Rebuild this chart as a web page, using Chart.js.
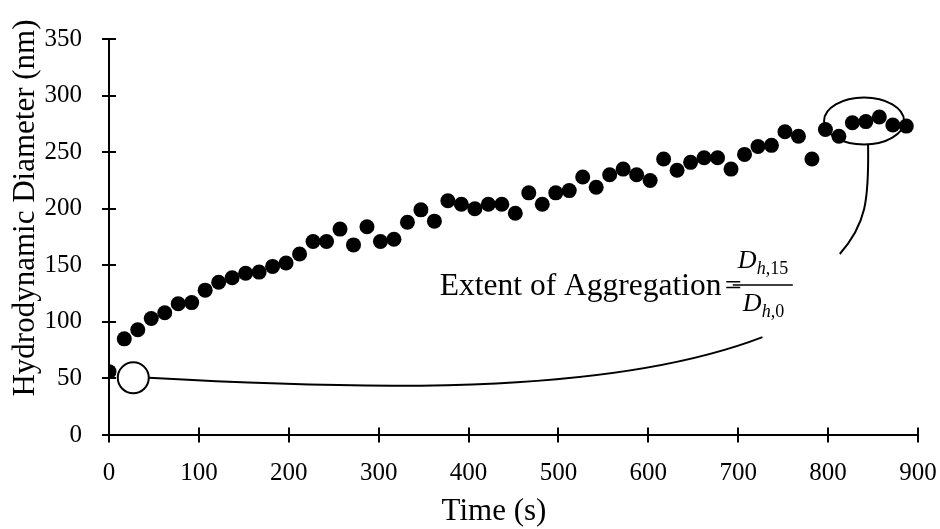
<!DOCTYPE html>
<html>
<head>
<meta charset="utf-8">
<script src="https://cdn.jsdelivr.net/npm/chart.js@4.4.0/dist/chart.umd.min.js"></script>
<style>
  html, body { margin: 0; padding: 0; background: #fff; }
</style>
</head>
<body>
<canvas id="chart" width="940" height="529"></canvas>
<script>
/* Hydrodynamic diameter vs time, scatter + hand-drawn style annotations */

const SERIF = "'Liberation Serif', 'Times New Roman', serif";

// time points (s)
const timeS = [0, 17, 32, 47, 62, 77, 92, 107, 122, 137, 152, 167, 182, 197, 212,
  227, 242, 257, 272, 287, 302, 317, 332, 347, 362, 377, 392, 407, 422, 437, 452,
  467, 482, 497, 512, 527, 542, 557, 572, 587, 602, 617, 632, 647, 662, 677, 692,
  707, 722, 737, 752, 767, 782, 797, 812, 827, 842, 857, 872, 887];

// hydrodynamic diameter (nm)
const diameterNm = [56, 85, 93, 103, 108, 116, 117, 128, 135, 139, 143, 144, 149,
  152, 160, 171, 171, 182, 168, 184, 171, 173, 188, 199, 189, 207, 204, 200, 204,
  204, 196, 214, 204, 214, 216, 228, 219, 230, 235, 230, 225, 244, 234, 241, 245,
  245, 235, 248, 255, 256, 268, 264, 244, 270, 264, 276, 277, 281, 274, 273];

const xTickValues = [0, 100, 200, 300, 400, 500, 600, 700, 800, 900];
const yTickValues = [0, 50, 100, 150, 200, 250, 300, 350];

const xTitle = 'Time (s)';
const yTitle = 'Hydrodynamic Diameter (nm)';
const noteText = 'Extent of Aggregation';

const points = timeS.map((t, i) => ({ x: t, y: diameterNm[i] }));

/* ticks that cross the axis line on both sides */
const crossTicks = {
  id: 'crossTicks',
  afterDraw(chart) {
    const { ctx, chartArea, scales: { x, y } } = chart;
    ctx.save();
    ctx.strokeStyle = '#000';
    ctx.lineWidth = 2;
    ctx.beginPath();
    x.ticks.forEach(t => {
      const px = Math.round(x.getPixelForValue(t.value));
      ctx.moveTo(px, chartArea.bottom - 7.5);
      ctx.lineTo(px, chartArea.bottom + 7.5);
    });
    y.ticks.forEach(t => {
      const py = Math.round(y.getPixelForValue(t.value));
      ctx.moveTo(chartArea.left - 7, py);
      ctx.lineTo(chartArea.left + 7, py);
    });
    ctx.stroke();
    ctx.restore();
  }
};

/* axis titles placed by hand (they are not centred on the plot in the original) */
const axisTitles = {
  id: 'axisTitles',
  afterDraw(chart) {
    const { ctx } = chart;
    ctx.save();
    ctx.fillStyle = '#000';
    ctx.font = `31px ${SERIF}`;
    ctx.textAlign = 'center';
    ctx.textBaseline = 'alphabetic';
    ctx.fillText(xTitle, 494, 520);
    ctx.translate(34, 208);
    ctx.rotate(-Math.PI / 2);
    ctx.fillText(yTitle, 0, 0);
    ctx.restore();
  }
};

/* open circle + curve, ellipse + tail, and the ratio label (anchors in data units) */
const notes = {
  id: 'notes',
  afterDatasetsDraw(chart) {
    const { ctx, scales: { x, y } } = chart;
    const P = (vx, vy) => [x.getPixelForValue(vx), y.getPixelForValue(vy)];
    ctx.save();
    ctx.strokeStyle = '#000';
    ctx.lineWidth = 2;

    // open circle on the starting value
    const [cx, cy] = P(27, 50.5);
    const r = 15.5;
    ctx.beginPath();
    ctx.arc(cx, cy, r, 0, Math.PI * 2);
    ctx.fillStyle = '#fff';
    ctx.fill();
    ctx.stroke();

    // long curve to the label
    const c1 = P(324, 38), c2 = P(568, 38), e1 = P(727, 86.5);
    ctx.beginPath();
    ctx.moveTo(cx + r, cy);
    ctx.bezierCurveTo(c1[0], c1[1], c2[0], c2[1], e1[0], e1[1]);
    ctx.stroke();

    // ellipse round the final values
    const [ex, ey] = P(840, 277.5);
    const rx = 40, ry = 23.5;
    ctx.beginPath();
    ctx.ellipse(ex, ey, rx, ry, 0, 0, Math.PI * 2);
    ctx.stroke();

    // tail from the ellipse
    const t1 = P(845.5, 207), t2 = P(842, 186), t3 = P(813, 160);
    ctx.beginPath();
    ctx.moveTo(ex + 4, ey + ry);
    ctx.bezierCurveTo(t1[0], t1[1], t2[0], t2[1], t3[0], t3[1]);
    ctx.stroke();

    // label text
    const [lx, ly] = P(368, 123.7);
    ctx.fillStyle = '#000';
    ctx.textBaseline = 'alphabetic';
    ctx.textAlign = 'left';
    ctx.font = `31.5px ${SERIF}`;
    ctx.fillText(noteText, lx, ly);
    ctx.font = `30px ${SERIF}`;
    ctx.fillText('=', lx + 285, ly);

    // fraction D_h,15 / D_h,0
    const fx = lx + 293;
    ctx.lineWidth = 1.5;
    ctx.beginPath();
    ctx.moveTo(fx, ly - 10);
    ctx.lineTo(fx + 60, ly - 10);
    ctx.stroke();
    ctx.font = `italic 26px ${SERIF}`;
    ctx.fillText('D', fx + 5, ly - 27);
    ctx.fillText('D', fx + 10, ly + 16);
    ctx.font = `italic 18px ${SERIF}`;
    ctx.fillText('h', fx + 24, ly - 21);
    ctx.fillText('h', fx + 29, ly + 22);
    ctx.font = `18px ${SERIF}`;
    ctx.fillText(',15', fx + 33, ly - 21);
    ctx.fillText(',0', fx + 38, ly + 22);
    ctx.restore();
  }
};

// keep tick-label overhang out of the layout so the plot box is fixed
const noOverhang = s => { s.paddingLeft = 0; s.paddingRight = 0; s.paddingTop = 0; s.paddingBottom = 0; };

new Chart(document.getElementById('chart'), {
  type: 'scatter',
  data: {
    datasets: [{
      data: points,
      pointRadius: 7.5,
      pointHoverRadius: 7.5,
      pointBackgroundColor: '#000',
      pointBorderWidth: 0,
    }]
  },
  options: {
    responsive: false,
    animation: false,
    events: [],
    layout: { padding: { top: 39, right: 22, left: 0, bottom: 0 } },
    plugins: { legend: { display: false }, tooltip: { enabled: false } },
    scales: {
      x: {
        type: 'linear',
        min: 0, max: 900,
        afterBuildTicks: s => { s.ticks = xTickValues.map(v => ({ value: v })); },
        afterFit: s => { s.height = 94; noOverhang(s); },
        grid: { display: false, drawTicks: false },
        border: { display: true, color: '#000', width: 2 },
        ticks: { color: '#000', padding: 23, font: { family: SERIF, size: 25 } },
      },
      y: {
        type: 'linear',
        min: 0, max: 350,
        afterBuildTicks: s => { s.ticks = yTickValues.map(v => ({ value: v })); },
        afterFit: s => { s.width = 109; noOverhang(s); },
        grid: { display: false, drawTicks: false },
        border: { display: true, color: '#000', width: 2 },
        ticks: { color: '#000', padding: 27, font: { family: SERIF, size: 25 } },
      }
    }
  },
  plugins: [crossTicks, axisTitles, notes]
});
</script>
</body>
</html>
